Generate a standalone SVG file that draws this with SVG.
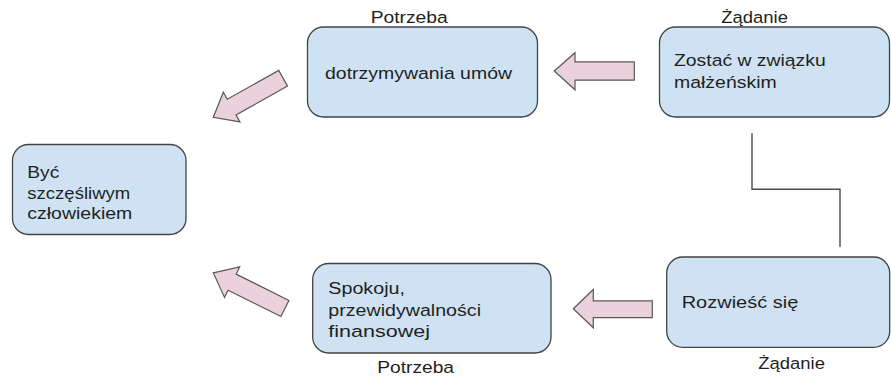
<svg xmlns="http://www.w3.org/2000/svg" width="891" height="378" viewBox="0 0 891 378">
  <style>
    .box { fill: #cfe2f3; stroke: #434343; stroke-width: 1.3; }
    .txt { font-family: "Liberation Sans", Arial, sans-serif; font-size: 16.8px; fill: #1f1f1f; }
    .arrow { fill: #ead1dc; stroke: #595959; stroke-width: 1.2; stroke-linejoin: miter; }
    .link { fill: none; stroke: #4a4a4a; stroke-width: 1.4; }
  </style>
  <defs>
    <!-- block arrow pointing left, tip at origin -->
    <path id="blockArrow" d="M0,0 L21,-17 L21,-9 L80,-9 L80,9 L21,9 L21,17 Z"/>
  </defs>
  <rect width="891" height="378" fill="#ffffff"/>

  <g id="node-umowy">
    <rect class="box" x="307.5" y="27" width="230" height="90" rx="16"/>
    <text class="txt" x="325" y="79" textLength="187" lengthAdjust="spacingAndGlyphs">dotrzymywania umów</text>
    <text class="txt" x="370.7" y="22.5" textLength="77" lengthAdjust="spacingAndGlyphs">Potrzeba</text>
  </g>

  <g id="node-malzenstwo">
    <rect class="box" x="659.5" y="27" width="230" height="90" rx="16"/>
    <text class="txt" x="674" y="65.7" textLength="151.7" lengthAdjust="spacingAndGlyphs">Zostać w związku</text>
    <text class="txt" x="674" y="88.3" textLength="102.7" lengthAdjust="spacingAndGlyphs">małżeńskim</text>
    <text class="txt" x="721.3" y="22.7" textLength="66.7" lengthAdjust="spacingAndGlyphs">Żądanie</text>
  </g>

  <g id="node-szczescie">
    <rect class="box" x="12.5" y="144.5" width="173.5" height="90" rx="16"/>
    <text class="txt" x="27.3" y="178.3" textLength="32" lengthAdjust="spacingAndGlyphs">Być</text>
    <text class="txt" x="27.3" y="198.8" textLength="103" lengthAdjust="spacingAndGlyphs">szczęśliwym</text>
    <text class="txt" x="27.3" y="219" textLength="105" lengthAdjust="spacingAndGlyphs">człowiekiem</text>
  </g>

  <g id="node-spokoj">
    <rect class="box" x="312.7" y="263.5" width="238.3" height="89.5" rx="16"/>
    <text class="txt" x="328.3" y="294" textLength="76.7" lengthAdjust="spacingAndGlyphs">Spokoju,</text>
    <text class="txt" x="328.3" y="315.5" textLength="152.7" lengthAdjust="spacingAndGlyphs">przewidywalności</text>
    <text class="txt" x="328.3" y="337" textLength="101.7" lengthAdjust="spacingAndGlyphs">finansowej</text>
    <text class="txt" x="377.3" y="373.3" textLength="76.7" lengthAdjust="spacingAndGlyphs">Potrzeba</text>
  </g>

  <g id="node-rozwod">
    <rect class="box" x="666.7" y="257" width="223" height="90.3" rx="16"/>
    <text class="txt" x="681.7" y="308.3" textLength="116.6" lengthAdjust="spacingAndGlyphs">Rozwieść się</text>
    <text class="txt" x="758.3" y="369" textLength="66.7" lengthAdjust="spacingAndGlyphs">Żądanie</text>
  </g>

  <g id="connectors">
    <polyline class="link" points="752,133.3 752,189.3 840,189.3 840,246.7"/>
    <path class="arrow" d="M554.3,71 L575,52.7 L575,61.8 L634.3,61.8 L634.3,80.2 L575,80.2 L575,89.8 Z"/>
    <path class="arrow" d="M573.3,308.8 L593.3,289.5 L593.3,300.8 L652.3,300.8 L652.3,317.6 L593.3,317.6 L593.3,327.8 Z"/>
    <use href="#blockArrow" class="arrow" transform="translate(213.3,117.3) rotate(-29.2)"/>
    <use href="#blockArrow" class="arrow" transform="translate(213.3,272.8) rotate(26.5)"/>
  </g>
</svg>
